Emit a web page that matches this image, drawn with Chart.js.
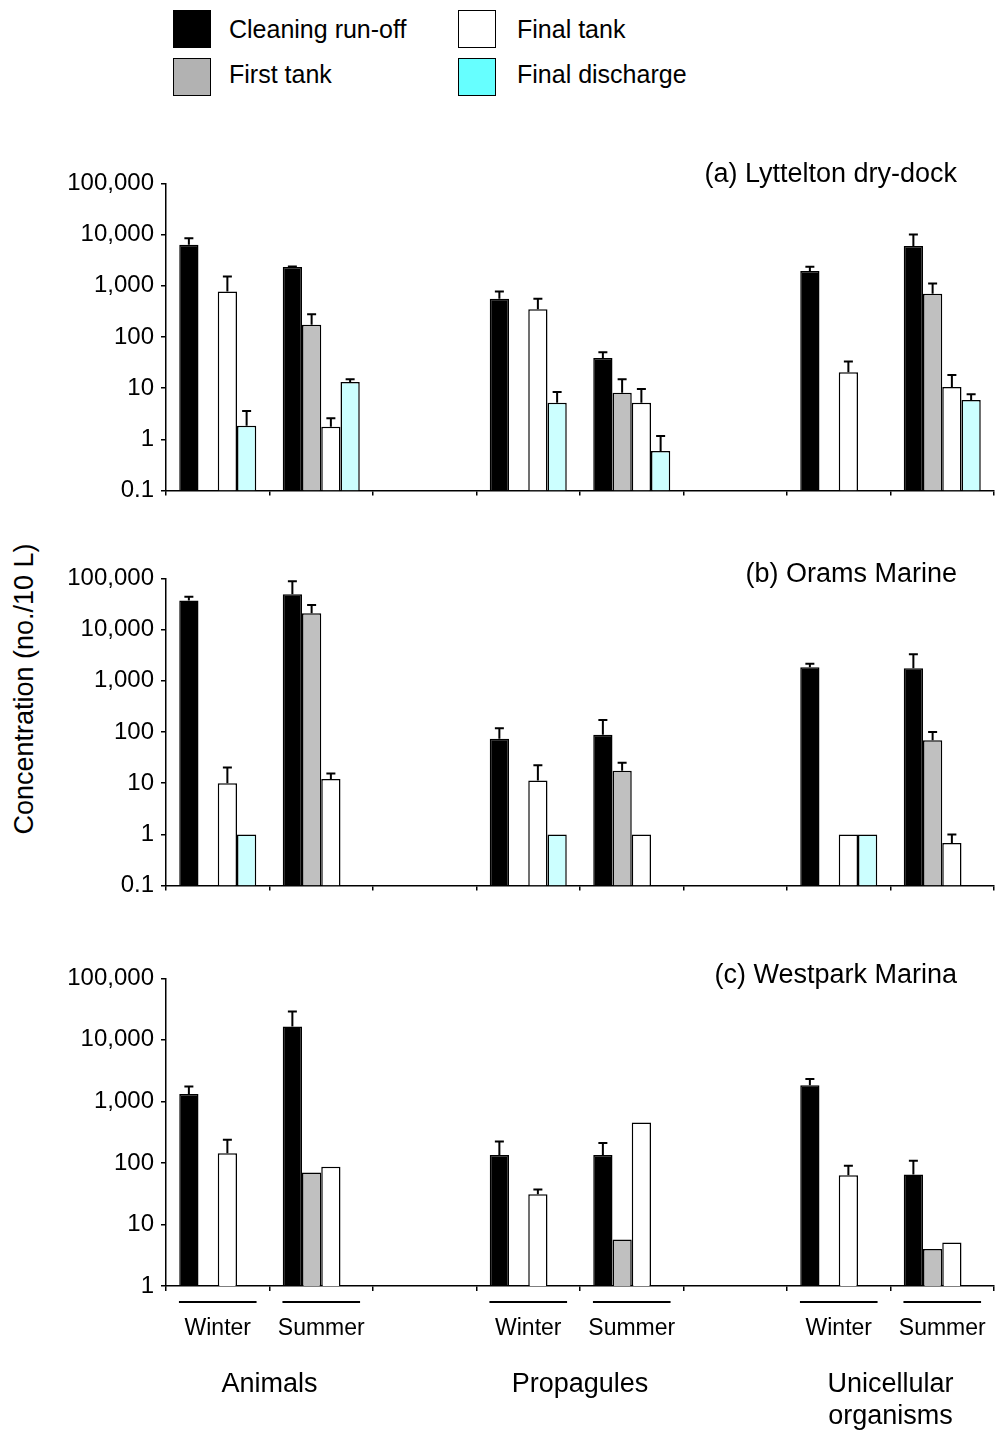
<!DOCTYPE html>
<html>
<head>
<meta charset="utf-8">
<script src="https://cdn.jsdelivr.net/npm/chart.js@4.4.0/dist/chart.umd.min.js"></script>
<style>
  html, body { margin: 0; padding: 0; background: #fff; }
  body { width: 997px; height: 1432px; position: relative; overflow: hidden;
         font-family: "Liberation Sans", Arial, sans-serif; color: #000; }
  canvas { position: absolute; left: 0; }
  .swatch { position: absolute; width: 38px; height: 38px; box-sizing: border-box; border: 1.5px solid #000; }
  .ltext { position: absolute; font-size: 25px; line-height: 25px; white-space: nowrap; }
  #ytitle { position: absolute; left: -136px; top: 674px; width: 320px; height: 30px; line-height: 30px;
            font-size: 27px; text-align: center; transform: rotate(-90deg); white-space: nowrap; }
</style>
</head>
<body>

<div class="swatch" style="left:173px; top:10px; background:#000;"></div>
<div class="ltext" style="left:229px; top:17px;">Cleaning run-off</div>
<div class="swatch" style="left:173px; top:58px; background:#b2b2b2;"></div>
<div class="ltext" style="left:229px; top:62px;">First tank</div>
<div class="swatch" style="left:458px; top:10px; background:#fff;"></div>
<div class="ltext" style="left:517px; top:17px;">Final tank</div>
<div class="swatch" style="left:458px; top:58px; background:#66ffff;"></div>
<div class="ltext" style="left:517px; top:62px;">Final discharge</div>

<div id="ytitle">Concentration (no./10 L)</div>

<canvas id="panelA" width="997" height="392" style="top:120px"></canvas>
<canvas id="panelB" width="997" height="392" style="top:515px"></canvas>
<canvas id="panelC" width="997" height="517" style="top:915px"></canvas>

<script>
// slots: Animals W/S, gap, Propagules W/S, gap, Unicellular W/S
const seasons = ['Winter', 'Summer', '', 'Winter', 'Summer', '', 'Winter', 'Summer'];
const groups = [['Animals'], ['Propagules'], ['Unicellular', 'organisms']];
const seriesNames = ['Cleaning run-off', 'First tank', 'Final tank', 'Final discharge'];
const seriesColors = ['#000000', '#c0c0c0', '#ffffff', '#ccffff'];

// (a) Lyttelton dry-dock
const lytCleaning    = [6300, 2320, null, 560, 39, null, 1940, 6000];
const lytCleaningErr = [8500, 2380, null, 770, 50, null, 2350, 10000];
const lytFirst       = [null, 173, null, null, 8.1, null, null, 700];
const lytFirstErr    = [null, 278, null, null, 15, null, null, 1110];
const lytFinal       = [770, 1.76, null, 347, 5.2, null, 20.4, 10.5];
const lytFinalErr    = [1510, 2.6, null, 560, 9.6, null, 33, 18];
const lytDischarge   = [1.84, 13.2, null, 5.2, 0.59, null, null, 5.9];
const lytDischargeErr= [3.6, 14.9, null, 8.4, 1.17, null, null, 7.6];

// (b) Orams Marine
const orCleaning     = [37000, 49000, null, 74, 88, null, 1830, 1750];
const orCleaningErr  = [43600, 88000, null, 118, 172, null, 2140, 3290];
const orFirst        = [null, 20700, null, null, 17.5, null, null, 69];
const orFirstErr     = [null, 30000, null, null, 25, null, null, 100];
const orFinal        = [10, 12, null, 11.3, 1, null, 1, 0.68];
const orFinalErr     = [20.2, 15.5, null, 22.5, null, null, null, 1.0];
const orDischarge    = [1, null, null, 1, null, null, 1, null];
const orDischargeErr = [null, null, null, null, null, null, null, null];

// (c) Westpark Marina
const wpCleaning     = [1320, 16500, null, 135, 135, null, 1830, 65];
const wpCleaningErr  = [1740, 28800, null, 222, 211, null, 2320, 108];
const wpFirst        = [null, 70, null, null, 5.7, null, null, 4.0];
const wpFirstErr     = [null, null, null, null, null, null, null, null];
const wpFinal        = [144, 87, null, 31, 453, null, 63, 5.1];
const wpFinalErr     = [239, null, null, 37, null, null, 90, null];
const wpDischarge    = [null, null, null, null, null, null, null, null];
const wpDischargeErr = [null, null, null, null, null, null, null, null];

const FONT = '"Liberation Sans", Arial, sans-serif';

function decadeLabel(v) {
    const l = Math.log10(v);
    if (Math.abs(l - Math.round(l)) > 1e-9) return null;
    return Number(v).toLocaleString('en-US');
}

// upper-only error bars with a small cap
const errorBars = {
    id: 'errorBars',
    afterDatasetsDraw(chart) {
        const ctx = chart.ctx;
        const y = chart.scales.y;
        chart.data.datasets.forEach((ds, i) => {
            const meta = chart.getDatasetMeta(i);
            meta.data.forEach((bar, j) => {
                const top = ds.errTop[j];
                if (top == null || ds.data[j] == null) return;
                const yTop = y.getPixelForValue(top);
                ctx.save();
                ctx.strokeStyle = '#000';
                ctx.lineWidth = 2;
                ctx.beginPath();
                ctx.moveTo(bar.x, bar.y);
                ctx.lineTo(bar.x, yTop);
                ctx.moveTo(bar.x - 4.5, yTop);
                ctx.lineTo(bar.x + 4.5, yTop);
                ctx.stroke();
                ctx.restore();
            });
        });
    }
};

// panel title, right aligned at the top of the plot
const panelTitle = {
    id: 'panelTitle',
    afterDraw(chart, args, opts) {
        const ctx = chart.ctx;
        ctx.save();
        ctx.font = '27px ' + FONT;
        ctx.fillStyle = '#000';
        ctx.textAlign = 'right';
        ctx.textBaseline = 'alphabetic';
        ctx.fillText(opts.text, chart.chartArea.right - 37, chart.chartArea.top + opts.dy);
        ctx.restore();
    }
};

// season labels, underlines and group names under the last panel
const groupLabels = {
    id: 'groupLabels',
    afterDraw(chart, args, opts) {
        if (!opts.show) return;
        const ctx = chart.ctx;
        const x = chart.scales.x;
        const base = chart.chartArea.bottom;
        const step = x.getPixelForValue(1) - x.getPixelForValue(0);
        ctx.save();
        ctx.strokeStyle = '#000';
        ctx.fillStyle = '#000';
        ctx.lineWidth = 2;
        ctx.textAlign = 'center';
        ctx.textBaseline = 'alphabetic';
        ctx.font = '23px ' + FONT;
        seasons.forEach((s, i) => {
            if (!s) return;
            const cx = x.getPixelForValue(i);
            ctx.beginPath();
            ctx.moveTo(cx - step * 0.375, base + 16);
            ctx.lineTo(cx + step * 0.375, base + 16);
            ctx.stroke();
            ctx.fillText(s, cx, base + 49);
        });
        ctx.font = '27px ' + FONT;
        groups.forEach((lines, g) => {
            const cx = (x.getPixelForValue(g * 3) + x.getPixelForValue(g * 3 + 1)) / 2;
            lines.forEach((t, k) => ctx.fillText(t, cx, base + 106 + k * 32));
        });
        ctx.restore();
    }
};

function makePanel(id, title, titleDy, series, errs, yMin, bottomPanel) {
    const datasets = series.map((d, k) => ({
        label: seriesNames[k],
        data: d,
        errTop: errs[k],
        backgroundColor: seriesColors[k],
        borderColor: '#000',
        borderWidth: 1.5,
        barPercentage: 1,
        categoryPercentage: 0.744
    }));
    new Chart(document.getElementById(id), {
        type: 'bar',
        data: { labels: seasons, datasets },
        plugins: [errorBars, panelTitle, groupLabels],
        options: {
            responsive: false,
            animation: false,
            layout: { padding: { top: 63.3, right: 3, left: 0, bottom: 0 } },
            plugins: {
                legend: { display: false },
                tooltip: { enabled: false },
                panelTitle: { text: title, dy: titleDy },
                groupLabels: { show: bottomPanel }
            },
            scales: {
                x: {
                    grid: { drawOnChartArea: false, drawTicks: true, tickLength: 5, color: '#000', lineWidth: 1.5, offset: true },
                    border: { color: '#000', width: 1.5 },
                    ticks: { display: false },
                    afterFit: s => { s.height = bottomPanel ? 146 : 20.5; }
                },
                y: {
                    type: 'logarithmic',
                    min: yMin,
                    max: 100000,
                    grid: { drawOnChartArea: false, tickLength: 5, color: '#000', lineWidth: 1.5 },
                    border: { color: '#000', width: 1.5 },
                    ticks: {
                        autoSkip: false, color: '#000', padding: 7,
                        font: { family: FONT, size: 24 },
                        callback: decadeLabel
                    },
                    afterFit: s => { s.width = 166; }
                }
            }
        }
    });
}

makePanel('panelA', '(a) Lyttelton dry-dock', -1,
    [lytCleaning, lytFirst, lytFinal, lytDischarge],
    [lytCleaningErr, lytFirstErr, lytFinalErr, lytDischargeErr], 0.1, false);
makePanel('panelB', '(b) Orams Marine', 4,
    [orCleaning, orFirst, orFinal, orDischarge],
    [orCleaningErr, orFirstErr, orFinalErr, orDischargeErr], 0.1, false);
makePanel('panelC', '(c) Westpark Marina', 5,
    [wpCleaning, wpFirst, wpFinal, wpDischarge],
    [wpCleaningErr, wpFirstErr, wpFinalErr, wpDischargeErr], 1, true);
</script>
</body>
</html>
